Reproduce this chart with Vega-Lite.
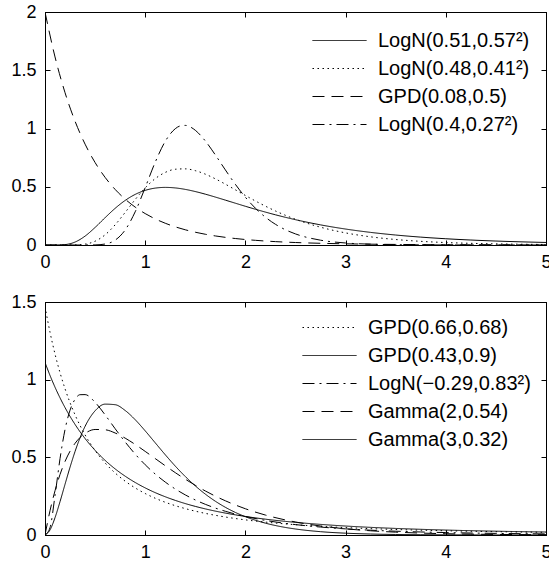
{
  "$schema": "https://vega.github.io/schema/vega-lite/v6.json",
  "background": "white",
  "padding": {"left": 10, "top": 2, "right": 0, "bottom": 0},
  "spacing": 20,
  "resolve": {"scale": {"strokeDash": "independent"}, "legend": {"strokeDash": "independent"}},
  "datasets": {
    "top": [
      {"s":"LogN(0.51,0.57²)","x":0,"y":0},{"s":"LogN(0.51,0.57²)","x":0.1,"y":0},{"s":"LogN(0.51,0.57²)","x":0.2,"y":0.0035},{"s":"LogN(0.51,0.57²)","x":0.3,"y":0.0254},{"s":"LogN(0.51,0.57²)","x":0.4,"y":0.0764},{"s":"LogN(0.51,0.57²)","x":0.5,"y":0.1508},{"s":"LogN(0.51,0.57²)","x":0.6,"y":0.2346},{"s":"LogN(0.51,0.57²)","x":0.7,"y":0.3147},{"s":"LogN(0.51,0.57²)","x":0.8,"y":0.3826},{"s":"LogN(0.51,0.57²)","x":0.9,"y":0.4342},{"s":"LogN(0.51,0.57²)","x":1.0,"y":0.4690},{"s":"LogN(0.51,0.57²)","x":1.1,"y":0.4883},{"s":"LogN(0.51,0.57²)","x":1.2,"y":0.4944},{"s":"LogN(0.51,0.57²)","x":1.3,"y":0.4899},{"s":"LogN(0.51,0.57²)","x":1.4,"y":0.4773},{"s":"LogN(0.51,0.57²)","x":1.5,"y":0.4588},{"s":"LogN(0.51,0.57²)","x":1.6,"y":0.4364},{"s":"LogN(0.51,0.57²)","x":1.7,"y":0.4114},{"s":"LogN(0.51,0.57²)","x":1.8,"y":0.3852},{"s":"LogN(0.51,0.57²)","x":1.9,"y":0.3587},{"s":"LogN(0.51,0.57²)","x":2.0,"y":0.3323},{"s":"LogN(0.51,0.57²)","x":2.1,"y":0.3068},{"s":"LogN(0.51,0.57²)","x":2.2,"y":0.2824},{"s":"LogN(0.51,0.57²)","x":2.3,"y":0.2592},{"s":"LogN(0.51,0.57²)","x":2.4,"y":0.2374},{"s":"LogN(0.51,0.57²)","x":2.5,"y":0.2172},{"s":"LogN(0.51,0.57²)","x":2.75,"y":0.1728},{"s":"LogN(0.51,0.57²)","x":3.0,"y":0.1369},{"s":"LogN(0.51,0.57²)","x":3.25,"y":0.1082},{"s":"LogN(0.51,0.57²)","x":3.5,"y":0.0856},{"s":"LogN(0.51,0.57²)","x":3.75,"y":0.0677},{"s":"LogN(0.51,0.57²)","x":4.0,"y":0.0537},{"s":"LogN(0.51,0.57²)","x":4.25,"y":0.0427},{"s":"LogN(0.51,0.57²)","x":4.5,"y":0.0340},{"s":"LogN(0.51,0.57²)","x":4.75,"y":0.0272},{"s":"LogN(0.51,0.57²)","x":5.0,"y":0.0218},
      {"s":"LogN(0.48,0.41²)","x":0,"y":0},{"s":"LogN(0.48,0.41²)","x":0.2,"y":0},{"s":"LogN(0.48,0.41²)","x":0.3,"y":0.0007},{"s":"LogN(0.48,0.41²)","x":0.4,"y":0.0074},{"s":"LogN(0.48,0.41²)","x":0.5,"y":0.0325},{"s":"LogN(0.48,0.41²)","x":0.6,"y":0.0875},{"s":"LogN(0.48,0.41²)","x":0.7,"y":0.1733},{"s":"LogN(0.48,0.41²)","x":0.8,"y":0.2795},{"s":"LogN(0.48,0.41²)","x":0.9,"y":0.3902},{"s":"LogN(0.48,0.41²)","x":1.0,"y":0.4904},{"s":"LogN(0.48,0.41²)","x":1.1,"y":0.5696},{"s":"LogN(0.48,0.41²)","x":1.2,"y":0.6230},{"s":"LogN(0.48,0.41²)","x":1.3,"y":0.6501},{"s":"LogN(0.48,0.41²)","x":1.4,"y":0.6537},{"s":"LogN(0.48,0.41²)","x":1.5,"y":0.6381},{"s":"LogN(0.48,0.41²)","x":1.6,"y":0.6080},{"s":"LogN(0.48,0.41²)","x":1.7,"y":0.5680},{"s":"LogN(0.48,0.41²)","x":1.8,"y":0.5222},{"s":"LogN(0.48,0.41²)","x":1.9,"y":0.4737},{"s":"LogN(0.48,0.41²)","x":2.0,"y":0.4250},{"s":"LogN(0.48,0.41²)","x":2.1,"y":0.3778},{"s":"LogN(0.48,0.41²)","x":2.2,"y":0.3333},{"s":"LogN(0.48,0.41²)","x":2.3,"y":0.2921},{"s":"LogN(0.48,0.41²)","x":2.4,"y":0.2546},{"s":"LogN(0.48,0.41²)","x":2.5,"y":0.2210},{"s":"LogN(0.48,0.41²)","x":2.75,"y":0.1527},{"s":"LogN(0.48,0.41²)","x":3.0,"y":0.1039},{"s":"LogN(0.48,0.41²)","x":3.25,"y":0.0701},{"s":"LogN(0.48,0.41²)","x":3.5,"y":0.0471},{"s":"LogN(0.48,0.41²)","x":3.75,"y":0.0315},{"s":"LogN(0.48,0.41²)","x":4.0,"y":0.0211},{"s":"LogN(0.48,0.41²)","x":4.25,"y":0.0142},{"s":"LogN(0.48,0.41²)","x":4.5,"y":0.0096},{"s":"LogN(0.48,0.41²)","x":4.75,"y":0.0065},{"s":"LogN(0.48,0.41²)","x":5.0,"y":0.0044},
      {"s":"GPD(0.08,0.5)","x":0,"y":2},{"s":"GPD(0.08,0.5)","x":0.1,"y":1.6142},{"s":"GPD(0.08,0.5)","x":0.2,"y":1.3073},{"s":"GPD(0.08,0.5)","x":0.3,"y":1.0621},{"s":"GPD(0.08,0.5)","x":0.4,"y":0.8656},{"s":"GPD(0.08,0.5)","x":0.5,"y":0.7076},{"s":"GPD(0.08,0.5)","x":0.6,"y":0.5802},{"s":"GPD(0.08,0.5)","x":0.7,"y":0.4771},{"s":"GPD(0.08,0.5)","x":0.8,"y":0.3934},{"s":"GPD(0.08,0.5)","x":0.9,"y":0.3253},{"s":"GPD(0.08,0.5)","x":1.0,"y":0.2697},{"s":"GPD(0.08,0.5)","x":1.1,"y":0.2241},{"s":"GPD(0.08,0.5)","x":1.2,"y":0.1868},{"s":"GPD(0.08,0.5)","x":1.3,"y":0.1560},{"s":"GPD(0.08,0.5)","x":1.4,"y":0.1306},{"s":"GPD(0.08,0.5)","x":1.5,"y":0.1096},{"s":"GPD(0.08,0.5)","x":1.6,"y":0.0922},{"s":"GPD(0.08,0.5)","x":1.7,"y":0.0777},{"s":"GPD(0.08,0.5)","x":1.8,"y":0.0656},{"s":"GPD(0.08,0.5)","x":1.9,"y":0.0556},{"s":"GPD(0.08,0.5)","x":2.0,"y":0.0471},{"s":"GPD(0.08,0.5)","x":2.1,"y":0.0401},{"s":"GPD(0.08,0.5)","x":2.2,"y":0.0341},{"s":"GPD(0.08,0.5)","x":2.3,"y":0.0291},{"s":"GPD(0.08,0.5)","x":2.4,"y":0.0249},{"s":"GPD(0.08,0.5)","x":2.5,"y":0.0213},{"s":"GPD(0.08,0.5)","x":2.75,"y":0.0146},{"s":"GPD(0.08,0.5)","x":3.0,"y":0.0101},{"s":"GPD(0.08,0.5)","x":3.25,"y":0.0070},{"s":"GPD(0.08,0.5)","x":3.5,"y":0.0049},{"s":"GPD(0.08,0.5)","x":3.75,"y":0.0035},{"s":"GPD(0.08,0.5)","x":4.0,"y":0.0025},{"s":"GPD(0.08,0.5)","x":4.25,"y":0.0018},{"s":"GPD(0.08,0.5)","x":4.5,"y":0.0013},{"s":"GPD(0.08,0.5)","x":4.75,"y":0.0010},{"s":"GPD(0.08,0.5)","x":5.0,"y":0.0007},
      {"s":"LogN(0.4,0.27²)","x":0,"y":0},{"s":"LogN(0.4,0.27²)","x":0.4,"y":0},{"s":"LogN(0.4,0.27²)","x":0.5,"y":0.0008},{"s":"LogN(0.4,0.27²)","x":0.6,"y":0.0083},{"s":"LogN(0.4,0.27²)","x":0.7,"y":0.0416},{"s":"LogN(0.4,0.27²)","x":0.8,"y":0.1288},{"s":"LogN(0.4,0.27²)","x":0.9,"y":0.2848},{"s":"LogN(0.4,0.27²)","x":1.0,"y":0.4931},{"s":"LogN(0.4,0.27²)","x":1.1,"y":0.7106},{"s":"LogN(0.4,0.27²)","x":1.2,"y":0.8897},{"s":"LogN(0.4,0.27²)","x":1.3,"y":0.9981},{"s":"LogN(0.4,0.27²)","x":1.35,"y":1.0221},{"s":"LogN(0.4,0.27²)","x":1.4,"y":1.0266},{"s":"LogN(0.4,0.27²)","x":1.45,"y":1.0134},{"s":"LogN(0.4,0.27²)","x":1.5,"y":0.9848},{"s":"LogN(0.4,0.27²)","x":1.6,"y":0.8930},{"s":"LogN(0.4,0.27²)","x":1.7,"y":0.7732},{"s":"LogN(0.4,0.27²)","x":1.8,"y":0.6445},{"s":"LogN(0.4,0.27²)","x":1.9,"y":0.5207},{"s":"LogN(0.4,0.27²)","x":2.0,"y":0.4098},{"s":"LogN(0.4,0.27²)","x":2.1,"y":0.3155},{"s":"LogN(0.4,0.27²)","x":2.2,"y":0.2386},{"s":"LogN(0.4,0.27²)","x":2.3,"y":0.1777},{"s":"LogN(0.4,0.27²)","x":2.4,"y":0.1306},{"s":"LogN(0.4,0.27²)","x":2.5,"y":0.0950},{"s":"LogN(0.4,0.27²)","x":2.75,"y":0.0413},{"s":"LogN(0.4,0.27²)","x":3.0,"y":0.0173},{"s":"LogN(0.4,0.27²)","x":3.25,"y":0.0071},{"s":"LogN(0.4,0.27²)","x":3.5,"y":0.0029},{"s":"LogN(0.4,0.27²)","x":3.75,"y":0.0012},{"s":"LogN(0.4,0.27²)","x":4.0,"y":0.0005},{"s":"LogN(0.4,0.27²)","x":4.5,"y":0.0001},{"s":"LogN(0.4,0.27²)","x":5.0,"y":0}
    ],
    "bottom": [
      {"s":"GPD(0.66,0.68)","x":0,"y":1.4706},{"s":"GPD(0.66,0.68)","x":0.05,"y":1.3054},{"s":"GPD(0.66,0.68)","x":0.1,"y":1.1649},{"s":"GPD(0.66,0.68)","x":0.15,"y":1.0448},{"s":"GPD(0.66,0.68)","x":0.2,"y":0.9413},{"s":"GPD(0.66,0.68)","x":0.3,"y":0.7733},{"s":"GPD(0.66,0.68)","x":0.4,"y":0.6444},{"s":"GPD(0.66,0.68)","x":0.5,"y":0.5437},{"s":"GPD(0.66,0.68)","x":0.6,"y":0.4637},{"s":"GPD(0.66,0.68)","x":0.7,"y":0.3992},{"s":"GPD(0.66,0.68)","x":0.8,"y":0.3466},{"s":"GPD(0.66,0.68)","x":0.9,"y":0.3032},{"s":"GPD(0.66,0.68)","x":1.0,"y":0.2670},{"s":"GPD(0.66,0.68)","x":1.1,"y":0.2366},{"s":"GPD(0.66,0.68)","x":1.2,"y":0.2108},{"s":"GPD(0.66,0.68)","x":1.3,"y":0.1888},{"s":"GPD(0.66,0.68)","x":1.4,"y":0.1699},{"s":"GPD(0.66,0.68)","x":1.5,"y":0.1535},{"s":"GPD(0.66,0.68)","x":1.6,"y":0.1392},{"s":"GPD(0.66,0.68)","x":1.7,"y":0.1268},{"s":"GPD(0.66,0.68)","x":1.8,"y":0.1158},{"s":"GPD(0.66,0.68)","x":1.9,"y":0.1061},{"s":"GPD(0.66,0.68)","x":2.0,"y":0.0975},{"s":"GPD(0.66,0.68)","x":2.2,"y":0.0831},{"s":"GPD(0.66,0.68)","x":2.4,"y":0.0714},{"s":"GPD(0.66,0.68)","x":2.5,"y":0.0664},{"s":"GPD(0.66,0.68)","x":2.75,"y":0.0559},{"s":"GPD(0.66,0.68)","x":3.0,"y":0.0476},{"s":"GPD(0.66,0.68)","x":3.25,"y":0.0409},{"s":"GPD(0.66,0.68)","x":3.5,"y":0.0355},{"s":"GPD(0.66,0.68)","x":3.75,"y":0.0310},{"s":"GPD(0.66,0.68)","x":4.0,"y":0.0273},{"s":"GPD(0.66,0.68)","x":4.25,"y":0.0241},{"s":"GPD(0.66,0.68)","x":4.5,"y":0.0215},{"s":"GPD(0.66,0.68)","x":4.75,"y":0.0192},{"s":"GPD(0.66,0.68)","x":5.0,"y":0.0173},
      {"s":"GPD(0.43,0.9)","x":0,"y":1.1111},{"s":"GPD(0.43,0.9)","x":0.05,"y":1.0272},{"s":"GPD(0.43,0.9)","x":0.1,"y":0.9514},{"s":"GPD(0.43,0.9)","x":0.15,"y":0.8827},{"s":"GPD(0.43,0.9)","x":0.2,"y":0.8203},{"s":"GPD(0.43,0.9)","x":0.3,"y":0.7117},{"s":"GPD(0.43,0.9)","x":0.4,"y":0.6211},{"s":"GPD(0.43,0.9)","x":0.5,"y":0.5450},{"s":"GPD(0.43,0.9)","x":0.6,"y":0.4805},{"s":"GPD(0.43,0.9)","x":0.7,"y":0.4256},{"s":"GPD(0.43,0.9)","x":0.8,"y":0.3787},{"s":"GPD(0.43,0.9)","x":0.9,"y":0.3382},{"s":"GPD(0.43,0.9)","x":1.0,"y":0.3032},{"s":"GPD(0.43,0.9)","x":1.1,"y":0.2727},{"s":"GPD(0.43,0.9)","x":1.2,"y":0.2462},{"s":"GPD(0.43,0.9)","x":1.3,"y":0.2229},{"s":"GPD(0.43,0.9)","x":1.4,"y":0.2023},{"s":"GPD(0.43,0.9)","x":1.5,"y":0.1842},{"s":"GPD(0.43,0.9)","x":1.6,"y":0.1681},{"s":"GPD(0.43,0.9)","x":1.7,"y":0.1538},{"s":"GPD(0.43,0.9)","x":1.8,"y":0.1411},{"s":"GPD(0.43,0.9)","x":1.9,"y":0.1297},{"s":"GPD(0.43,0.9)","x":2.0,"y":0.1194},{"s":"GPD(0.43,0.9)","x":2.2,"y":0.1019},{"s":"GPD(0.43,0.9)","x":2.4,"y":0.0876},{"s":"GPD(0.43,0.9)","x":2.5,"y":0.0814},{"s":"GPD(0.43,0.9)","x":2.75,"y":0.0683},{"s":"GPD(0.43,0.9)","x":3.0,"y":0.0577},{"s":"GPD(0.43,0.9)","x":3.25,"y":0.0492},{"s":"GPD(0.43,0.9)","x":3.5,"y":0.0423},{"s":"GPD(0.43,0.9)","x":3.75,"y":0.0366},{"s":"GPD(0.43,0.9)","x":4.0,"y":0.0318},{"s":"GPD(0.43,0.9)","x":4.25,"y":0.0278},{"s":"GPD(0.43,0.9)","x":4.5,"y":0.0245},{"s":"GPD(0.43,0.9)","x":4.75,"y":0.0216},{"s":"GPD(0.43,0.9)","x":5.0,"y":0.0192},
      {"s":"LogN(−0.29,0.83²)","x":0,"y":0},{"s":"LogN(−0.29,0.83²)","x":0.05,"y":0.0474},{"s":"LogN(−0.29,0.83²)","x":0.1,"y":0.2542},{"s":"LogN(−0.29,0.83²)","x":0.15,"y":0.4916},{"s":"LogN(−0.29,0.83²)","x":0.2,"y":0.6793},{"s":"LogN(−0.29,0.83²)","x":0.25,"y":0.8036},{"s":"LogN(−0.29,0.83²)","x":0.3,"y":0.8738},{"s":"LogN(−0.29,0.83²)","x":0.35,"y":0.9032},{"s":"LogN(−0.29,0.83²)","x":0.4,"y":0.9039},{"s":"LogN(−0.29,0.83²)","x":0.5,"y":0.8543},{"s":"LogN(−0.29,0.83²)","x":0.6,"y":0.7732},{"s":"LogN(−0.29,0.83²)","x":0.7,"y":0.6844},{"s":"LogN(−0.29,0.83²)","x":0.8,"y":0.5989},{"s":"LogN(−0.29,0.83²)","x":0.9,"y":0.5210},{"s":"LogN(−0.29,0.83²)","x":1.0,"y":0.4522},{"s":"LogN(−0.29,0.83²)","x":1.1,"y":0.3923},{"s":"LogN(−0.29,0.83²)","x":1.2,"y":0.3407},{"s":"LogN(−0.29,0.83²)","x":1.3,"y":0.2963},{"s":"LogN(−0.29,0.83²)","x":1.4,"y":0.2582},{"s":"LogN(−0.29,0.83²)","x":1.5,"y":0.2256},{"s":"LogN(−0.29,0.83²)","x":1.6,"y":0.1975},{"s":"LogN(−0.29,0.83²)","x":1.7,"y":0.1734},{"s":"LogN(−0.29,0.83²)","x":1.8,"y":0.1527},{"s":"LogN(−0.29,0.83²)","x":1.9,"y":0.1347},{"s":"LogN(−0.29,0.83²)","x":2.0,"y":0.1192},{"s":"LogN(−0.29,0.83²)","x":2.2,"y":0.0939},{"s":"LogN(−0.29,0.83²)","x":2.4,"y":0.0747},{"s":"LogN(−0.29,0.83²)","x":2.5,"y":0.0669},{"s":"LogN(−0.29,0.83²)","x":2.75,"y":0.0511},{"s":"LogN(−0.29,0.83²)","x":3.0,"y":0.0395},{"s":"LogN(−0.29,0.83²)","x":3.25,"y":0.0309},{"s":"LogN(−0.29,0.83²)","x":3.5,"y":0.0244},{"s":"LogN(−0.29,0.83²)","x":3.75,"y":0.0195},{"s":"LogN(−0.29,0.83²)","x":4.0,"y":0.0156},{"s":"LogN(−0.29,0.83²)","x":4.25,"y":0.0127},{"s":"LogN(−0.29,0.83²)","x":4.5,"y":0.0103},{"s":"LogN(−0.29,0.83²)","x":4.75,"y":0.0085},{"s":"LogN(−0.29,0.83²)","x":5.0,"y":0.0070},
      {"s":"Gamma(2,0.54)","x":0,"y":0},{"s":"Gamma(2,0.54)","x":0.05,"y":0.1563},{"s":"Gamma(2,0.54)","x":0.1,"y":0.2850},{"s":"Gamma(2,0.54)","x":0.15,"y":0.3896},{"s":"Gamma(2,0.54)","x":0.2,"y":0.4736},{"s":"Gamma(2,0.54)","x":0.25,"y":0.5396},{"s":"Gamma(2,0.54)","x":0.3,"y":0.5903},{"s":"Gamma(2,0.54)","x":0.35,"y":0.6278},{"s":"Gamma(2,0.54)","x":0.4,"y":0.6540},{"s":"Gamma(2,0.54)","x":0.5,"y":0.6793},{"s":"Gamma(2,0.54)","x":0.6,"y":0.6774},{"s":"Gamma(2,0.54)","x":0.7,"y":0.6567},{"s":"Gamma(2,0.54)","x":0.8,"y":0.6236},{"s":"Gamma(2,0.54)","x":0.9,"y":0.5830},{"s":"Gamma(2,0.54)","x":1.0,"y":0.5382},{"s":"Gamma(2,0.54)","x":1.1,"y":0.4920},{"s":"Gamma(2,0.54)","x":1.2,"y":0.4460},{"s":"Gamma(2,0.54)","x":1.3,"y":0.4015},{"s":"Gamma(2,0.54)","x":1.4,"y":0.3593},{"s":"Gamma(2,0.54)","x":1.5,"y":0.3199},{"s":"Gamma(2,0.54)","x":1.6,"y":0.2835},{"s":"Gamma(2,0.54)","x":1.7,"y":0.2503},{"s":"Gamma(2,0.54)","x":1.8,"y":0.2202},{"s":"Gamma(2,0.54)","x":1.9,"y":0.1932},{"s":"Gamma(2,0.54)","x":2.0,"y":0.1689},{"s":"Gamma(2,0.54)","x":2.2,"y":0.1283},{"s":"Gamma(2,0.54)","x":2.4,"y":0.0967},{"s":"Gamma(2,0.54)","x":2.5,"y":0.0837},{"s":"Gamma(2,0.54)","x":2.75,"y":0.0579},{"s":"Gamma(2,0.54)","x":3.0,"y":0.0398},{"s":"Gamma(2,0.54)","x":3.25,"y":0.0271},{"s":"Gamma(2,0.54)","x":3.5,"y":0.0184},{"s":"Gamma(2,0.54)","x":3.75,"y":0.0124},{"s":"Gamma(2,0.54)","x":4.0,"y":0.0083},{"s":"Gamma(2,0.54)","x":4.25,"y":0.0056},{"s":"Gamma(2,0.54)","x":4.5,"y":0.0037},{"s":"Gamma(2,0.54)","x":4.75,"y":0.0025},{"s":"Gamma(2,0.54)","x":5.0,"y":0.0016},
      {"s":"Gamma(3,0.32)","x":0,"y":0},{"s":"Gamma(3,0.32)","x":0.05,"y":0.0326},{"s":"Gamma(3,0.32)","x":0.1,"y":0.1116},{"s":"Gamma(3,0.32)","x":0.15,"y":0.2148},{"s":"Gamma(3,0.32)","x":0.2,"y":0.3267},{"s":"Gamma(3,0.32)","x":0.25,"y":0.4366},{"s":"Gamma(3,0.32)","x":0.3,"y":0.5378},{"s":"Gamma(3,0.32)","x":0.35,"y":0.6261},{"s":"Gamma(3,0.32)","x":0.4,"y":0.6995},{"s":"Gamma(3,0.32)","x":0.5,"y":0.7996},{"s":"Gamma(3,0.32)","x":0.6,"y":0.8424},{"s":"Gamma(3,0.32)","x":0.7,"y":0.8388},{"s":"Gamma(3,0.32)","x":0.8,"y":0.8016},{"s":"Gamma(3,0.32)","x":0.9,"y":0.7423},{"s":"Gamma(3,0.32)","x":1.0,"y":0.6704},{"s":"Gamma(3,0.32)","x":1.1,"y":0.5935},{"s":"Gamma(3,0.32)","x":1.2,"y":0.5168},{"s":"Gamma(3,0.32)","x":1.3,"y":0.4437},{"s":"Gamma(3,0.32)","x":1.4,"y":0.3765},{"s":"Gamma(3,0.32)","x":1.5,"y":0.3162},{"s":"Gamma(3,0.32)","x":1.6,"y":0.2632},{"s":"Gamma(3,0.32)","x":1.7,"y":0.2174},{"s":"Gamma(3,0.32)","x":1.8,"y":0.1783},{"s":"Gamma(3,0.32)","x":1.9,"y":0.1453},{"s":"Gamma(3,0.32)","x":2.0,"y":0.1178},{"s":"Gamma(3,0.32)","x":2.2,"y":0.0763},{"s":"Gamma(3,0.32)","x":2.4,"y":0.0486},{"s":"Gamma(3,0.32)","x":2.5,"y":0.0386},{"s":"Gamma(3,0.32)","x":2.75,"y":0.0214},{"s":"Gamma(3,0.32)","x":3.0,"y":0.0117},{"s":"Gamma(3,0.32)","x":3.25,"y":0.0063},{"s":"Gamma(3,0.32)","x":3.5,"y":0.0033},{"s":"Gamma(3,0.32)","x":3.75,"y":0.0018},{"s":"Gamma(3,0.32)","x":4.0,"y":0.0009},{"s":"Gamma(3,0.32)","x":4.25,"y":0.0005},{"s":"Gamma(3,0.32)","x":4.5,"y":0.0002},{"s":"Gamma(3,0.32)","x":4.75,"y":0.0001},{"s":"Gamma(3,0.32)","x":5.0,"y":0.0001}
    ]
  },
  "vconcat": [
    {
      "width": 501, "height": 233,
      "data": {"name": "top"},
      "layer": [
        {
          "mark": {"type": "line", "color": "black", "strokeWidth": 1, "interpolate": "monotone", "clip": true},
          "encoding": {
            "x": {"field": "x", "type": "quantitative", "scale": {"domain": [0, 5], "nice": false}, "axis": {"orient": "bottom", "values": [0,1,2,3,4,5], "format": "~g", "labelPadding": 13, "title": null}},
            "y": {"field": "y", "type": "quantitative", "scale": {"domain": [0, 2], "nice": false}, "axis": {"orient": "left", "values": [0,0.5,1,1.5,2], "format": "~g", "labelPadding": 14, "title": null}},
            "strokeDash": {"field": "s", "type": "nominal",
              "scale": {"domain": ["LogN(0.51,0.57²)","LogN(0.48,0.41²)","GPD(0.08,0.5)","LogN(0.4,0.27²)"], "range": [[1,0],[1.5,3.5],[12,7],[12,5,2,5]]},
              "legend": {"title": null, "orient": "none", "legendX": 283, "legendY": 17}}
          }
        },
        {
          "mark": {"type": "point", "opacity": 0, "size": 0},
          "encoding": {
            "x": {"field": "x", "type": "quantitative", "scale": {"domain": [0, 5], "nice": false}, "axis": {"orient": "top", "values": [0,1,2,3,4,5], "labels": false, "title": null}},
            "y": {"field": "y", "type": "quantitative", "scale": {"domain": [0, 2], "nice": false}, "axis": {"orient": "right", "values": [0,0.5,1,1.5,2], "labels": false, "title": null}}
          }
        }
      ],
      "resolve": {"axis": {"x": "independent", "y": "independent"}}
    },
    {
      "width": 501, "height": 233,
      "data": {"name": "bottom"},
      "layer": [
        {
          "mark": {"type": "line", "color": "black", "strokeWidth": 1, "interpolate": "monotone", "clip": true},
          "encoding": {
            "x": {"field": "x", "type": "quantitative", "scale": {"domain": [0, 5], "nice": false}, "axis": {"orient": "bottom", "values": [0,1,2,3,4,5], "format": "~g", "labelPadding": 13, "title": null}},
            "y": {"field": "y", "type": "quantitative", "scale": {"domain": [0, 1.5], "nice": false}, "axis": {"orient": "left", "values": [0,0.5,1,1.5], "format": "~g", "labelPadding": 14, "title": null}},
            "strokeDash": {"field": "s", "type": "nominal",
              "scale": {"domain": ["GPD(0.66,0.68)","GPD(0.43,0.9)","LogN(−0.29,0.83²)","Gamma(2,0.54)","Gamma(3,0.32)"], "range": [[1.5,3.5],[1,0],[12,5,2,5],[12,7],[1,0]]},
              "legend": {"title": null, "orient": "none", "legendX": 273, "legendY": 14}}
          }
        },
        {
          "mark": {"type": "point", "opacity": 0, "size": 0},
          "encoding": {
            "x": {"field": "x", "type": "quantitative", "scale": {"domain": [0, 5], "nice": false}, "axis": {"orient": "top", "values": [0,1,2,3,4,5], "labels": false, "title": null}},
            "y": {"field": "y", "type": "quantitative", "scale": {"domain": [0, 1.5], "nice": false}, "axis": {"orient": "right", "values": [0,0.5,1,1.5], "labels": false, "title": null}}
          }
        }
      ],
      "resolve": {"axis": {"x": "independent", "y": "independent"}}
    }
  ],
  "config": {
    "view": {"stroke": "black", "strokeWidth": 1},
    "axis": {"grid": false, "domainColor": "black", "domainWidth": 1, "tickColor": "black", "tickWidth": 1, "tickSize": -5, "labelColor": "black", "labelFont": "Liberation Sans", "labelFontSize": 18, "labelFlush": false, "labelOverlap": false},
    "legend": {"padding": 0, "symbolType": "M-2.5,0H2.5", "symbolSize": 467, "symbolStrokeWidth": 1, "symbolStrokeColor": "black", "labelFont": "Liberation Sans", "labelFontSize": 20, "labelColor": "black", "labelOffset": 27, "labelLimit": 400, "rowPadding": 6}
  }
}
